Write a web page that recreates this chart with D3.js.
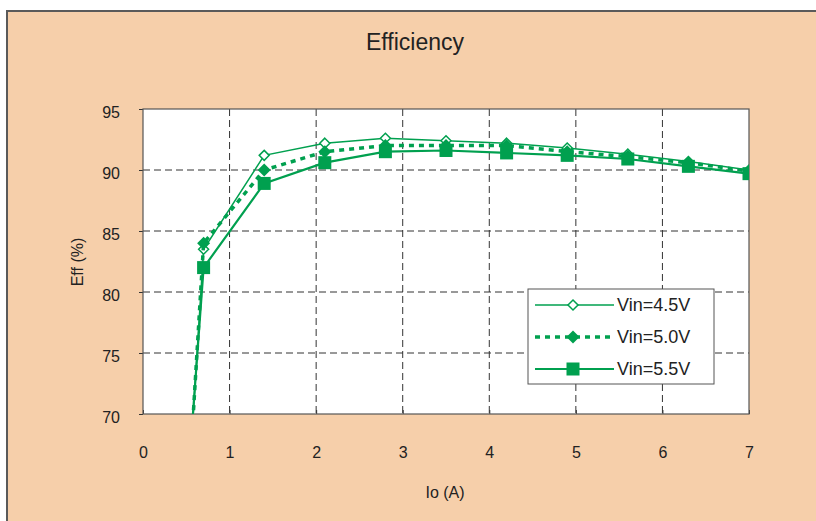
<!DOCTYPE html>
<html>
<head>
<meta charset="utf-8">
<script src="https://cdn.jsdelivr.net/npm/d3@7"></script>
<style>
  body { margin: 0; background: #fff; }
  text { font-family: "Liberation Sans", Arial, sans-serif; fill: #222; }
</style>
</head>
<body>
<svg id="chart"></svg>
<script>
// size
const width = 816;
const height = 521;

// plot area boundaries
const plot = { left: 143, right: 749, top: 109, bottom: 414 };

// data
const current = [0.5, 0.7, 1.4, 2.1, 2.8, 3.5, 4.2, 4.9, 5.6, 6.3, 7.0];
const eff45 = [61.0, 83.5, 91.2, 92.2, 92.6, 92.4, 92.2, 91.8, 91.3, 90.7, 90.0];
const eff50 = [60.5, 84.0, 90.0, 91.5, 92.0, 92.0, 92.0, 91.5, 91.1, 90.6, 89.9];
const eff55 = [62.5, 82.0, 88.9, 90.6, 91.5, 91.6, 91.4, 91.2, 90.9, 90.3, 89.7];
const seriesNames = ["Vin=4.5V", "Vin=5.0V", "Vin=5.5V"];
const xTicks = [0, 1, 2, 3, 4, 5, 6, 7];
const yTicks = [70, 75, 80, 85, 90, 95];

const green = "#00a04f";

const series = [
    { name: seriesNames[0], values: eff45, width: 1.5, dash: null, marker: "hollowDiamond" },
    { name: seriesNames[1], values: eff50, width: 3.5, dash: "5,5", marker: "diamond" },
    { name: seriesNames[2], values: eff55, width: 2.2, dash: null, marker: "square" }
];

const svg = d3.select("#chart")
    .attr("width", width)
    .attr("height", height);

// chart background
svg.append("rect")
    .attr("x", 7)
    .attr("y", 11)
    .attr("width", width + 20)
    .attr("height", height + 20)
    .attr("fill", "#f6cfaa")
    .attr("stroke", "#5a5a5a")
    .attr("stroke-width", 2);

svg.append("defs")
    .append("clipPath")
    .attr("id", "clip")
    .append("rect")
    .attr("x", plot.left)
    .attr("y", plot.top)
    .attr("width", plot.right - plot.left)
    .attr("height", plot.bottom - plot.top);

// scales
const xScale = d3.scaleLinear().domain([0, 7]).range([plot.left, plot.right]);
const yScale = d3.scaleLinear().domain([70, 95]).range([plot.bottom, plot.top]);

// plot background
svg.append("rect")
    .attr("x", plot.left)
    .attr("y", plot.top)
    .attr("width", plot.right - plot.left)
    .attr("height", plot.bottom - plot.top)
    .attr("fill", "#fff");

// grid
const grid = svg.append("g").attr("class", "grid");
grid.selectAll("line.h")
    .data(yTicks.slice(1, -1))
    .enter()
    .append("line")
    .attr("x1", plot.left)
    .attr("x2", plot.right)
    .attr("y1", d => yScale(d))
    .attr("y2", d => yScale(d))
    .attr("stroke", "#333")
    .attr("stroke-dasharray", "7,4");
grid.selectAll("line.v")
    .data(xTicks.slice(1, -1))
    .enter()
    .append("line")
    .attr("x1", d => xScale(d))
    .attr("x2", d => xScale(d))
    .attr("y1", plot.top)
    .attr("y2", plot.bottom)
    .attr("stroke", "#333")
    .attr("stroke-dasharray", "7,4");

// axes
const xAxis = d3.axisBottom(xScale)
    .tickValues(xTicks)
    .tickFormat(d3.format("d"))
    .tickSizeInner(-4)
    .tickSizeOuter(0)
    .tickPadding(33);
const yAxis = d3.axisLeft(yScale)
    .tickValues(yTicks)
    .tickFormat(d3.format("d"))
    .tickSizeInner(4)
    .tickSizeOuter(0)
    .tickPadding(19);

const gx = svg.append("g")
    .attr("transform", `translate(0,${plot.bottom})`)
    .call(xAxis);
const gy = svg.append("g")
    .attr("transform", `translate(${plot.left},0)`)
    .call(yAxis);
[gx, gy].forEach(g => {
    g.select(".domain").remove();
    g.selectAll(".tick line").attr("stroke", "#333");
    g.selectAll("text")
        .style("font-size", "16px")
        .attr("fill", "#222");
});
gy.selectAll("text").attr("dy", "0.56em");

// plot border
svg.append("rect")
    .attr("x", plot.left)
    .attr("y", plot.top)
    .attr("width", plot.right - plot.left)
    .attr("height", plot.bottom - plot.top)
    .attr("fill", "none")
    .attr("stroke", "#555")
    .attr("stroke-width", 1.2);

// labels
svg.append("text")
    .attr("x", 415)
    .attr("y", 50)
    .attr("text-anchor", "middle")
    .style("font-size", "23px")
    .text("Efficiency");
svg.append("text")
    .attr("x", 445)
    .attr("y", 498)
    .attr("text-anchor", "middle")
    .style("font-size", "16px")
    .text("Io (A)");
svg.append("text")
    .attr("text-anchor", "middle")
    .attr("transform", "translate(83, 262) rotate(-90)")
    .style("font-size", "16px")
    .text("Eff (%)");

// markers
function drawMarker(sel, type) {
    if (type === "square") {
        sel.append("rect")
            .attr("x", -6.5).attr("y", -6.5)
            .attr("width", 13).attr("height", 13)
            .attr("fill", green);
    } else if (type === "diamond") {
        sel.append("path")
            .attr("d", "M0,-6.5L6.5,0L0,6.5L-6.5,0Z")
            .attr("fill", green);
    } else {
        sel.append("path")
            .attr("d", "M0,-5L5,0L0,5L-5,0Z")
            .attr("fill", "#fff")
            .attr("stroke", green)
            .attr("stroke-width", 1.5);
    }
}

const line = d3.line()
    .x((d, i) => xScale(current[i]))
    .y(d => yScale(d));

const lines = svg.append("g").attr("clip-path", "url(#clip)");
series.forEach(s => {
    const g = lines.append("g");
    g.append("path")
        .datum(s.values)
        .attr("d", line)
        .attr("fill", "none")
        .attr("stroke", green)
        .attr("stroke-width", s.width)
        .attr("stroke-dasharray", s.dash);
    g.selectAll("g.mark")
        .data(s.values.map((v, i) => ({ x: current[i], y: v })).filter(d => d.y >= 70))
        .enter()
        .append("g")
        .attr("transform", d => `translate(${xScale(d.x)},${yScale(d.y)})`)
        .each(function() { drawMarker(d3.select(this), s.marker); });
});

// legend
const legend = svg.append("g").attr("transform", "translate(528,289)");
legend.append("rect")
    .attr("width", 186)
    .attr("height", 95)
    .attr("fill", "#fff")
    .attr("stroke", "#555");
const rowY = [16, 48, 80];
series.forEach((s, i) => {
    const row = legend.append("g").attr("transform", `translate(0,${rowY[i]})`);
    row.append("line")
        .attr("x1", 7).attr("x2", 86)
        .attr("stroke", green)
        .attr("stroke-width", s.width)
        .attr("stroke-dasharray", s.dash);
    drawMarker(row.append("g").attr("transform", "translate(45,0)"), s.marker);
    row.append("text")
        .attr("x", 89)
        .attr("dy", "0.36em")
        .style("font-size", "18px")
        .text(s.name);
});
</script>
</body>
</html>
